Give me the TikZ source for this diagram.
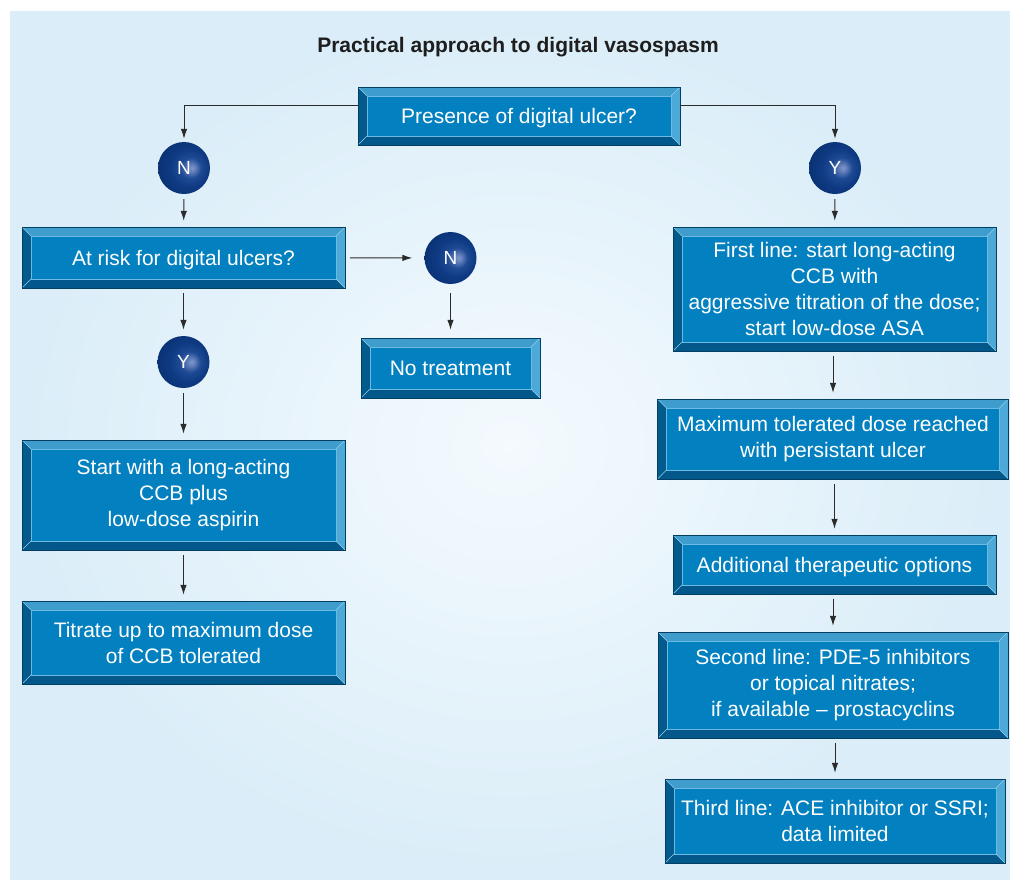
\documentclass[tikz,border=0pt]{standalone}
\usepackage{fontspec}
\setmainfont{Liberation Sans}
\usetikzlibrary{arrows.meta,calc}
\definecolor{bgblue}{HTML}{DAEDF8}
\definecolor{bglight}{HTML}{F4FAFE}
\definecolor{boxmid}{HTML}{0380C0}
\definecolor{bevtop}{HTML}{3F9DCD}
\definecolor{bevleft}{HTML}{035A8C}
\definecolor{bevbot}{HTML}{02588A}
\definecolor{bevright}{HTML}{4DA9D7}
\definecolor{bevline}{HTML}{6DB9E0}
\definecolor{linecol}{HTML}{2B2B2B}
\definecolor{titlecol}{HTML}{1E1E1E}
\pgfdeclareradialshading{myball}{\pgfqpoint{8bp}{0bp}}{rgb(0bp)=(0.50,0.60,0.80); rgb(4bp)=(0.36,0.48,0.72); rgb(10bp)=(0.12,0.29,0.58); rgb(18bp)=(0.06,0.23,0.52); rgb(28bp)=(0.04,0.20,0.46); rgb(34bp)=(0.03,0.17,0.41); rgb(50bp)=(0.03,0.16,0.40)}
\tikzset{
  bev/.style={rectangle, fill=boxmid, draw=bevleft!70!black, line width=0.4pt,
    text=white, align=center, inner sep=0pt,
    font=\fontsize{21}{26}\selectfont,
    path picture={
      \coordinate (pNW) at (path picture bounding box.north west);
      \coordinate (pNE) at (path picture bounding box.north east);
      \coordinate (pSW) at (path picture bounding box.south west);
      \coordinate (pSE) at (path picture bounding box.south east);
      \fill[bevtop] (pNW) -- (pNE) -- ([shift={(-9pt,-9pt)}]pNE) -- ([shift={(9pt,-9pt)}]pNW) -- cycle;
      \fill[bevbot] (pSW) -- (pSE) -- ([shift={(-9pt,9pt)}]pSE) -- ([shift={(9pt,9pt)}]pSW) -- cycle;
      \fill[bevleft] (pNW) -- (pSW) -- ([shift={(9pt,9pt)}]pSW) -- ([shift={(9pt,-9pt)}]pNW) -- cycle;
      \fill[bevright] (pNE) -- (pSE) -- ([shift={(-9pt,9pt)}]pSE) -- ([shift={(-9pt,-9pt)}]pNE) -- cycle;
      \draw[bevline, line width=0.5pt] ([shift={(9pt,-9pt)}]pNW) rectangle ([shift={(-9pt,9pt)}]pSE);
      \draw[bevline!70!white, line width=0.4pt] (pNW) -- ([shift={(9pt,-9pt)}]pNW)
        (pNE) -- ([shift={(-9pt,-9pt)}]pNE) (pSW) -- ([shift={(9pt,9pt)}]pSW) (pSE) -- ([shift={(-9pt,9pt)}]pSE);
    }},
  oneline/.style={text depth=0pt},
  ball/.style={circle, minimum size=52pt, inner sep=0pt, shade, shading=myball,
    text=white, font=\fontsize{19}{22}\selectfont},
  arr/.style={draw=linecol, line width=1pt, -{Latex[length=10pt,width=6.5pt]},
    shorten <=5pt, shorten >=6pt},
}
\begin{document}
\begin{tikzpicture}[x=1pt,y=-1pt]
\useasboundingbox (0,0) rectangle (1010,879);
\fill[white] (0,0) rectangle (1010,879);
\fill[bgblue] (10,11) rectangle (1010,879);
\shade[inner color=bglight, outer color=bgblue] (10,11) rectangle (1010,879);

\node[font=\bfseries\fontsize{21}{24}\selectfont, text=titlecol, anchor=base] (title) at (518,52) {Practical approach to digital vasospasm};

\node[bev, oneline, minimum width=322pt, minimum height=58pt] (pres) at (519,116) {Presence of digital ulcer?};
\node[ball] (N1) at (184,168) {N};
\node[ball] (Y1) at (835,168) {Y};

\node[bev, oneline, minimum width=323pt, minimum height=61pt] (risk) at (183.5,257.5) {At risk for digital ulcers?};
\node[ball] (N2) at (450.5,258) {N};
\node[bev, minimum width=179pt, minimum height=60pt] (notr) at (450.5,368) {No treatment};
\node[ball] (Y2) at (183.5,362) {Y};
\node[bev, minimum width=323pt, minimum height=110pt] (start) at (183.5,495) {Start with a long-acting\\CCB plus\\low-dose aspirin};
\node[bev, minimum width=323pt, minimum height=83pt] (titr) at (183.5,642.5) {Titrate up to maximum dose\\of CCB tolerated};

\node[bev, minimum width=323pt, minimum height=124pt] (first) at (834.5,289) {First line: start long-acting\\CCB with\\aggressive titration of the dose;\\start low-dose ASA};
\node[bev, minimum width=351pt, minimum height=80pt] (maxd) at (833,439) {Maximum tolerated dose reached\\with persistant ulcer};
\node[bev, oneline, minimum width=323pt, minimum height=59pt] (addl) at (834.5,564.5) {Additional therapeutic options};
\node[bev, minimum width=350pt, minimum height=106pt] (second) at (833,685) {Second line: PDE-5 inhibitors\\or topical nitrates;\\if available -- prostacyclins};
\node[bev, minimum width=340pt, minimum height=84pt] (third) at (835,821) {Third line: ACE inhibitor or SSRI;\\data limited};

\draw[arr, shorten <=0pt, shorten >=3pt] ([yshift=11pt]pres.west) -| (N1.north);
\draw[arr, shorten <=0pt, shorten >=3pt] ([yshift=11pt]pres.east) -| (Y1.north);
\draw[arr] (N1) -- (risk);
\draw[arr, shorten >=12pt] (risk) -- (N2);
\draw[arr, shorten <=9pt, shorten >=8pt] (N2) -- (notr);
\draw[arr] (risk) -- (Y2);
\draw[arr] (Y2) -- (start);
\draw[arr] (start) -- (titr);
\draw[arr] (Y1) -- (first);
\draw[arr] (first.south -| maxd.north) -- (maxd.north);
\draw[arr] (maxd.south -| addl.north) -- (addl.north);
\draw[arr] (addl.south -| second.north) -- (second.north);
\draw[arr] (second.south -| third.north) -- (third.north);
\end{tikzpicture}
\end{document}
